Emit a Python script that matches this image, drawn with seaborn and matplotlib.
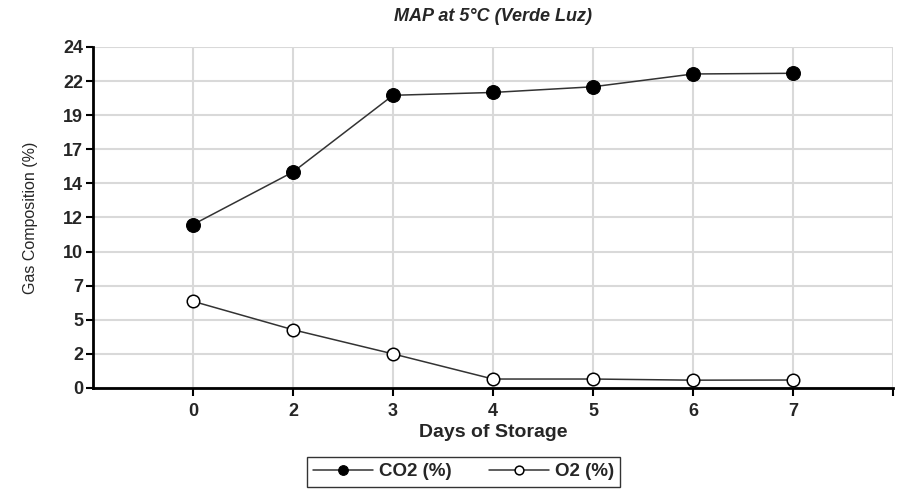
import numpy as np
import pandas as pd
import matplotlib
matplotlib.use("Agg")
import matplotlib.pyplot as plt
import seaborn as sns


# data
days = ["0", "2", "3", "4", "5", "6", "7"]
co2 = [11.5, 15.2, 20.6, 20.8, 21.2, 22.1, 22.15]
o2 = [6.1, 4.1, 2.4, 0.63, 0.63, 0.55, 0.56]
y_tick_labels = ["0", "2", "5", "7", "10", "12", "14", "17", "19", "22", "24"]

sns.set_theme(style="white")
plt.rcParams["font.family"] = ["Liberation Sans", "DejaVu Sans"]

fig = plt.figure(figsize=(9.09, 4.9), dpi=100)
ax = fig.add_axes([0.1023, 0.2082, 0.8801, 0.6959])

df = pd.DataFrame({"day": days, "co2": co2, "o2": o2})

sns.lineplot(
    data=df, x="day", y="co2", sort=False, ax=ax,
    color="#333333", linewidth=1.1, marker="o", markersize=10,
    markerfacecolor="black", markeredgecolor="black", label="CO2 (%)",
)
sns.lineplot(
    data=df, x="day", y="o2", sort=False, ax=ax,
    color="#333333", linewidth=1.1, marker="o", markersize=9,
    markerfacecolor="white", markeredgecolor="black", markeredgewidth=1.1,
    label="O2 (%)",
)

# axes limits / ticks
ax.set_xlim(-1, len(days))
ax.set_ylim(0, 24)
ax.set_xticks(range(len(days) + 1))
ax.set_xticklabels(days + [""], fontsize=13, fontweight="bold")
ax.set_yticks(np.linspace(0, 24, len(y_tick_labels)))
ax.set_yticklabels(y_tick_labels, fontsize=13, fontweight="bold")
ax.tick_params(axis="both", direction="out", length=5, width=1.5,
               color="black", pad=2, bottom=True, left=True)
ax.tick_params(axis="x", length=6, pad=5)

ax.grid(True, color="#d9d9d9", linewidth=1.5)
ax.set_axisbelow(True)
for side in ["top", "right"]:
    ax.spines[side].set_visible(False)
for side in ["left", "bottom"]:
    ax.spines[side].set_color("black")
    ax.spines[side].set_linewidth(2)

ax.set_xlabel("Days of Storage", fontsize=14, fontweight="bold", labelpad=3)
ax.set_ylabel("Gas Composition (%)", fontsize=11.5, labelpad=18)
ax.set_title("MAP at 5°C (Verde Luz)", fontsize=13, fontweight="bold",
             style="italic", pad=19)

leg = ax.legend(
    loc="center", bbox_to_anchor=(0.51, 0.037), bbox_transform=fig.transFigure,
    ncol=2, frameon=True, fancybox=False, markerscale=0.7, handlelength=3.2,
    handletextpad=0.3, columnspacing=2.0, borderpad=0.35,
    prop={"weight": "bold", "size": 13.5},
)
leg.get_frame().set_edgecolor("black")
leg.get_frame().set_linewidth(1)

plt.savefig("out.png", dpi=100)
